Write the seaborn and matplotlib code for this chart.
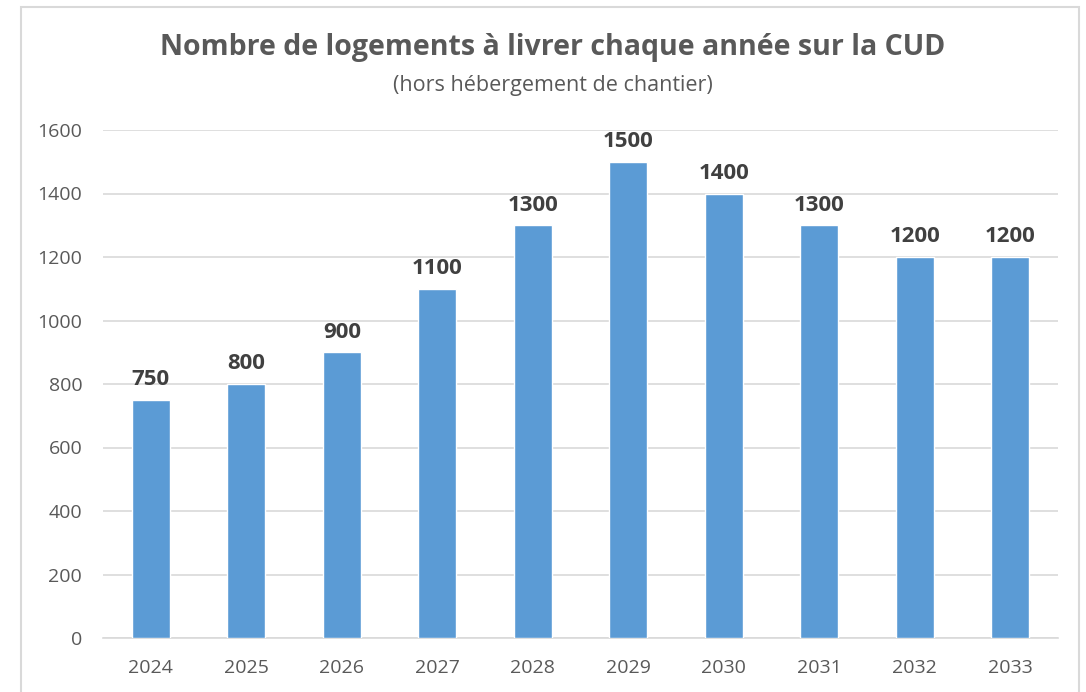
import matplotlib.pyplot as plt
import pandas as pd
import seaborn as sns
from matplotlib.patches import Rectangle

years = ["2024", "2025", "2026", "2027", "2028", "2029", "2030", "2031", "2032", "2033"]
logements = [750, 800, 900, 1100, 1300, 1500, 1400, 1300, 1200, 1200]
y_ticks = [0, 200, 400, 600, 800, 1000, 1200, 1400, 1600]

title = "Nombre de logements à livrer chaque année sur la CUD"
subtitle = "(hors hébergement de chantier)"

W, H = 1086, 692
BAR_COLOR = "#5B9BD5"
TEXT_GRAY = "#595959"
GRID_GRAY = "#D9D9D9"

sns.set_theme(style="white")
plt.rcParams["font.family"] = ["Open Sans", "DejaVu Sans"]

df = pd.DataFrame({"annee": years, "logements": logements})

fig = plt.figure(figsize=(W / 100, H / 100), dpi=100)
ax = fig.add_axes([103 / W, 1 - 638 / H, (1058 - 103) / W, (638 - 130) / H])

sns.barplot(data=df, x="annee", y="logements", color=BAR_COLOR,
            saturation=1, width=0.4, ax=ax, zorder=3)

ax.set_ylim(0, 1600)
ax.set_yticks(y_ticks)
ax.set_xlim(-0.5, len(years) - 0.5)
ax.yaxis.grid(True, color=GRID_GRAY, linewidth=1.2, zorder=0)
ax.set_axisbelow(True)
for s in ["top", "right", "left"]:
    ax.spines[s].set_visible(False)
ax.spines["bottom"].set_color(GRID_GRAY)
ax.spines["bottom"].set_linewidth(1.2)
ax.set_xlabel("")
ax.set_ylabel("")
ax.tick_params(axis="both", length=0, labelsize=14, colors=TEXT_GRAY)
ax.tick_params(axis="x", pad=15)
ax.tick_params(axis="y", pad=15)

for c in ax.containers:
    ax.bar_label(c, padding=7, fontsize=16, fontweight="bold", color="#404040")

fig.text(553 / W, 1 - 48 / H, title, ha="center", va="center",
         fontsize=20.5, fontweight="bold", color=TEXT_GRAY)
fig.text(553 / W, 1 - 86 / H, subtitle, ha="center", va="center",
         fontsize=15.5, color=TEXT_GRAY)

fig.patches.append(Rectangle((21 / W, -0.01), (1079 - 21) / W, 1 - 7 / H + 0.01,
                             transform=fig.transFigure, fill=False,
                             edgecolor=GRID_GRAY, linewidth=1.5))

fig.savefig("out.png", dpi=100, facecolor="white")
